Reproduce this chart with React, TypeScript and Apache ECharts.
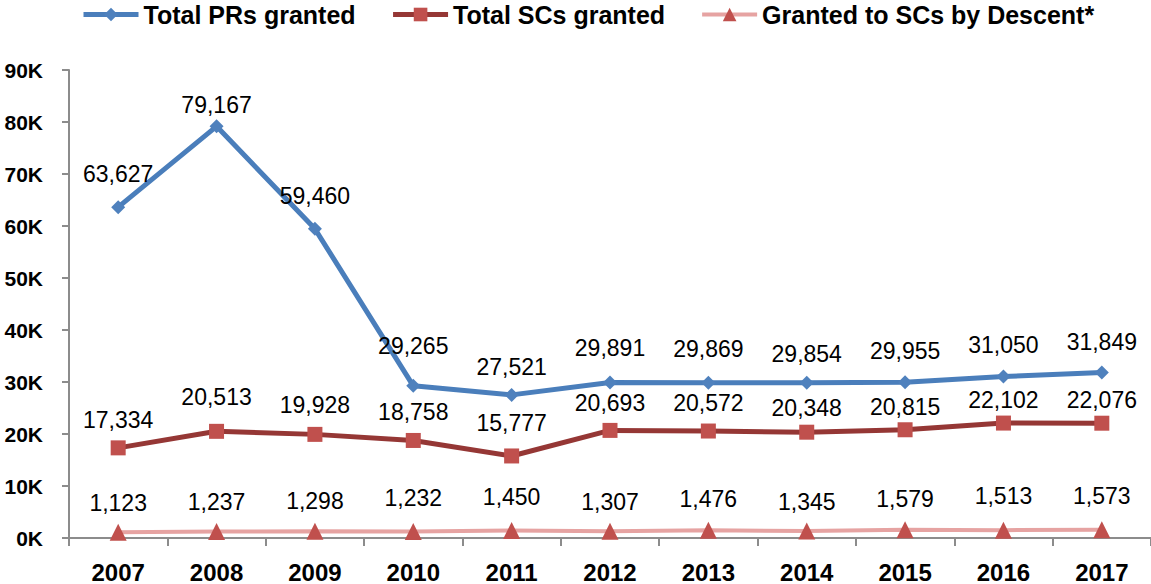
import React, { useEffect, useRef } from "react";
import * as echarts from "echarts";

const years = ["2007", "2008", "2009", "2010", "2011", "2012", "2013", "2014", "2015", "2016", "2017"];
const prsGranted = [63627, 79167, 59460, 29265, 27521, 29891, 29869, 29854, 29955, 31050, 31849];
const scsGranted = [17334, 20513, 19928, 18758, 15777, 20693, 20572, 20348, 20815, 22102, 22076];
const scsByDescent = [1123, 1237, 1298, 1232, 1450, 1307, 1476, 1345, 1579, 1513, 1573];
const yTicks = { min: 0, max: 90000, interval: 10000 };

// label lifts (px above each point) – styling only
const prsLift = [33, 21, 33, 40, 28, 35, 34, 29, 31, 32, 30];
const scsLift = [28, 34, 29, 28, 33, 27, 28, 24, 23, 23, 23];
const descLift = [29, 30, 30, 34, 33, 29, 31, 29, 31, 34, 34];

const FONT = "'Liberation Sans', Arial, sans-serif";
const fmt = (v: number) => v.toLocaleString("en-US");

function withLabels(values: number[], lifts: number[]) {
  return values.map((v, i) => ({
    value: v,
    label: { offset: [0, -lifts[i]] },
  }));
}

export default function App() {
  const ref = useRef<HTMLDivElement>(null);
  useEffect(() => {
    if (!ref.current) return;
    const chart = echarts.init(ref.current, null, { renderer: "svg" });
    const labelBase = {
      show: true,
      position: "inside",
      color: "#000",
      fontFamily: FONT,
      fontSize: 23,
      formatter: (p: any) => fmt(p.value),
    };
    chart.setOption({
      animation: false,
      backgroundColor: "#fff",
      legend: {
        left: 76,
        top: -3,
        itemWidth: 55,
        itemHeight: 17,
        itemGap: 35,
        textStyle: { fontFamily: FONT, fontSize: 25, fontWeight: "bold", color: "#000" },
        data: [
          { name: "Total PRs granted", lineStyle: { width: 5 } },
          { name: "Total SCs granted", lineStyle: { width: 5 } },
          { name: "Granted to SCs by Descent*", lineStyle: { width: 4 } },
        ],
      },
      grid: { left: 69, right: 0, top: 70, bottom: 46, containLabel: false },
      xAxis: {
        type: "category",
        data: years,
        boundaryGap: true,
        axisLine: { lineStyle: { color: "#8c8c8c", width: 2 } },
        axisTick: { show: true, length: 8, alignWithLabel: false, lineStyle: { color: "#8c8c8c", width: 2 } },
        axisLabel: { fontFamily: FONT, fontSize: 24, fontWeight: "bold", color: "#000", margin: 22 },
        splitLine: { show: false },
      },
      yAxis: {
        type: "value",
        min: yTicks.min,
        max: yTicks.max,
        interval: yTicks.interval,
        axisLine: { show: true, lineStyle: { color: "#8c8c8c", width: 2 } },
        axisTick: { show: true, length: 7, lineStyle: { color: "#8c8c8c", width: 2 } },
        axisLabel: {
          fontFamily: FONT,
          fontSize: 21,
          fontWeight: "bold",
          color: "#000",
          margin: 26,
          formatter: (v: number) => v / 1000 + "K",
        },
        splitLine: { show: false },
      },
      series: [
        {
          name: "Total PRs granted",
          type: "line",
          data: withLabels(prsGranted, prsLift),
          symbol: "diamond",
          symbolSize: 14,
          lineStyle: { color: "#4A7EBB", width: 5 },
          itemStyle: { color: "#4F81BD" },
          label: labelBase,
          z: 4,
        },
        {
          name: "Total SCs granted",
          type: "line",
          data: withLabels(scsGranted, scsLift),
          symbol: "rect",
          symbolSize: 15,
          lineStyle: { color: "#953735", width: 5 },
          itemStyle: { color: "#C0504D" },
          label: labelBase,
          z: 3,
        },
        {
          name: "Granted to SCs by Descent*",
          type: "line",
          data: withLabels(scsByDescent, descLift),
          symbol: "triangle",
          symbolSize: 17,
          lineStyle: { color: "#E6A3A2", width: 4 },
          itemStyle: { color: "#C0504D" },
          label: labelBase,
          z: 2,
        },
      ],
    });
    return () => chart.dispose();
  }, []);
  return (
    <div style={{ position: "fixed", left: 0, top: 0 }}>
      <div ref={ref} style={{ width: 1151, height: 584 }} />
    </div>
  );
}
